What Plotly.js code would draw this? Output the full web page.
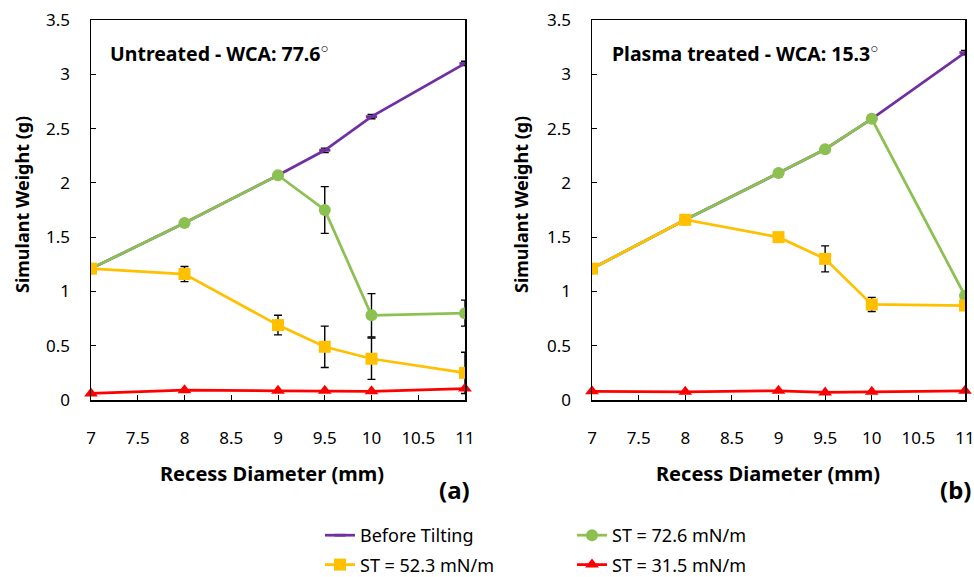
<!DOCTYPE html>
<html>
<head>
<meta charset="utf-8">
<script src="https://cdn.plot.ly/plotly-3.0.1.min.js"></script>
<style>html,body{margin:0;padding:0;background:#fff}#chart{width:974px;height:577px}</style>
</head>
<body>
<div id="chart"></div>
<script>
// Recess diameters (mm)
const diameters = [7, 8, 9, 9.5, 10, 11];

// Panel (a) Untreated - WCA 77.6°
const a_before = [1.21, 1.63, 2.07, 2.30, 2.61, 3.10];
const a_before_err = [0.02, 0.02, 0.02, 0.02, 0.02, 0.02];
const a_st726 = [1.21, 1.63, 2.07, 1.75, 0.78, 0.80];
const a_st726_err = [0, 0, 0, 0.215, 0.20, 0.12];
const a_st523 = [1.21, 1.16, 0.69, 0.49, 0.38, 0.25];
const a_st523_err = [0, 0.07, 0.09, 0.19, 0.19, 0.19];
const a_st315 = [0.06, 0.09, 0.085, 0.085, 0.08, 0.105];

// Panel (b) Plasma treated - WCA 15.3°
const b_before = [1.21, 1.66, 2.09, 2.31, 2.59, 3.20];
const b_before_err = [0.02, 0.02, 0.02, 0.02, 0.02, 0.02];
const b_st726 = [1.21, 1.66, 2.09, 2.31, 2.59, 0.96];
const b_st523 = [1.21, 1.66, 1.50, 1.30, 0.88, 0.87];
const b_st523_err = [0, 0, 0, 0.12, 0.065, 0];
const b_st315 = [0.08, 0.075, 0.085, 0.07, 0.075, 0.085];

const seriesNames = ['Before Tilting', 'ST = 72.6 mN/m', 'ST = 52.3 mN/m', 'ST = 31.5 mN/m'];
const xTickVals = [7, 7.5, 8, 8.5, 9, 9.5, 10, 10.5, 11];
const yTickVals = [0, 0.5, 1, 1.5, 2, 2.5, 3, 3.5];

const PURPLE = '#7030A0', GREEN = '#8CC152', YELLOW = '#FFC000', RED = '#FF0000';

function errOpt(arr) {
  return {type: 'data', array: arr, visible: true, color: '#000', thickness: 1.4, width: 4};
}

function panel(xa, ya, before, beforeErr, g, gErr, y, yErr, r, showLeg) {
  return [
    {x: diameters, y: before, xaxis: xa, yaxis: ya, type: 'scatter', mode: 'lines+markers',
     name: seriesNames[0], legend: 'legend', legendgroup: 'g0', showlegend: showLeg,
     line: {color: PURPLE, width: 2.75},
     marker: {symbol: 'line-ew', size: 8, color: PURPLE, line: {color: PURPLE, width: 2.75}},
     error_y: errOpt(beforeErr), cliponaxis: true},
    {x: diameters, y: g, xaxis: xa, yaxis: ya, type: 'scatter', mode: 'lines+markers',
     name: seriesNames[1], legend: 'legend2', legendgroup: 'g1', showlegend: showLeg,
     line: {color: GREEN, width: 2.75},
     marker: {symbol: 'circle', size: 12, color: GREEN},
     error_y: gErr ? errOpt(gErr) : undefined, cliponaxis: true},
    {x: diameters, y: y, xaxis: xa, yaxis: ya, type: 'scatter', mode: 'lines+markers',
     name: seriesNames[2], legend: 'legend', legendgroup: 'g2', showlegend: showLeg,
     line: {color: YELLOW, width: 2.75},
     marker: {symbol: 'square', size: 12, color: YELLOW},
     error_y: yErr ? errOpt(yErr) : undefined, cliponaxis: true},
    {x: diameters, y: r, xaxis: xa, yaxis: ya, type: 'scatter', mode: 'lines+markers',
     name: seriesNames[3], legend: 'legend2', legendgroup: 'g3', showlegend: showLeg,
     line: {color: RED, width: 2.75},
     marker: {symbol: 'triangle-up', size: 12, color: RED},
     cliponaxis: false}
  ];
}

const data = [].concat(
  panel('x', 'y', a_before, a_before_err, a_st726, a_st726_err, a_st523, a_st523_err, a_st315, true),
  panel('x2', 'y2', b_before, b_before_err, b_st726, null, b_st523, b_st523_err, b_st315, false)
);

const W = 974, H = 577;
const FONT = 'Noto Sans, Open Sans, sans-serif';
const yDom = [1 - 400 / H, 1 - 20 / H];

function xAxis(dom, anchor) {
  return {domain: dom, anchor: anchor, range: [7, 11], tickvals: xTickVals,
    ticks: 'inside', ticklen: 5, tickwidth: 1, tickcolor: '#000', showline: true, mirror: true,
    linecolor: '#000', linewidth: 1.5, showgrid: false, zeroline: false,
    ticklabeloverflow: 'allow',
    tickfont: {family: FONT, size: 17, color: '#000'}, ticklabelstandoff: 22, fixedrange: true};
}
function yAxis(anchor) {
  return {domain: yDom, anchor: anchor, range: [0, 3.5], tickvals: yTickVals,
    ticks: 'inside', ticklen: 5, tickwidth: 1, tickcolor: '#000',
    showline: true, mirror: true, linecolor: '#000', linewidth: 1.5,
    showgrid: false, zeroline: false, ticklabeloverflow: 'allow',
    tickfont: {family: FONT, size: 17, color: '#000'}, ticklabelstandoff: 16, fixedrange: true};
}

const ann = (text, x, y, size, extra) => Object.assign({
  text: text, x: x / W, y: 1 - y / H, xref: 'paper', yref: 'paper', showarrow: false,
  xanchor: 'center', yanchor: 'middle',
  font: {family: FONT, size: size, color: '#000', weight: 'bold'}
}, extra || {});

const legendFont = {family: FONT, size: 18, color: '#000'};

const layout = {
  width: W, height: H,
  margin: {l: 0, r: 0, t: 0, b: 0, autoexpand: false},
  paper_bgcolor: '#fff', plot_bgcolor: '#fff',
  showlegend: true,
  xaxis: xAxis([91 / W, 465 / W], 'y'),
  yaxis: yAxis('x'),
  xaxis2: xAxis([592 / W, 965 / W], 'y2'),
  yaxis2: yAxis('x2'),
  legend: {x: 320 / W, y: 1 - 517 / H, xanchor: 'left', yanchor: 'top', orientation: 'v',
    tracegroupgap: 3, font: legendFont, bgcolor: 'rgba(0,0,0,0)'},
  legend2: {x: 572 / W, y: 1 - 517 / H, xanchor: 'left', yanchor: 'top', orientation: 'v',
    tracegroupgap: 3, font: legendFont, bgcolor: 'rgba(0,0,0,0)'},
  annotations: [
    ann('Untreated - WCA: 77.6<sup>○</sup>', 108, 52, 19.5, {xanchor: 'left'}),
    ann('Plasma treated - WCA: 15.3<sup>○</sup>', 610, 52, 19.5, {xanchor: 'left'}),
    ann('Simulant Weight (g)', 22, 205, 18, {textangle: -90}),
    ann('Simulant Weight (g)', 521, 205, 18, {textangle: -90}),
    ann('Recess Diameter (mm)', 272, 473, 20),
    ann('Recess Diameter (mm)', 768, 473, 20),
    ann('(a)', 454, 489, 24),
    ann('(b)', 955, 489, 24)
  ]
};

Plotly.newPlot('chart', data, layout, {displayModeBar: false, staticPlot: true});
</script>
</body>
</html>
